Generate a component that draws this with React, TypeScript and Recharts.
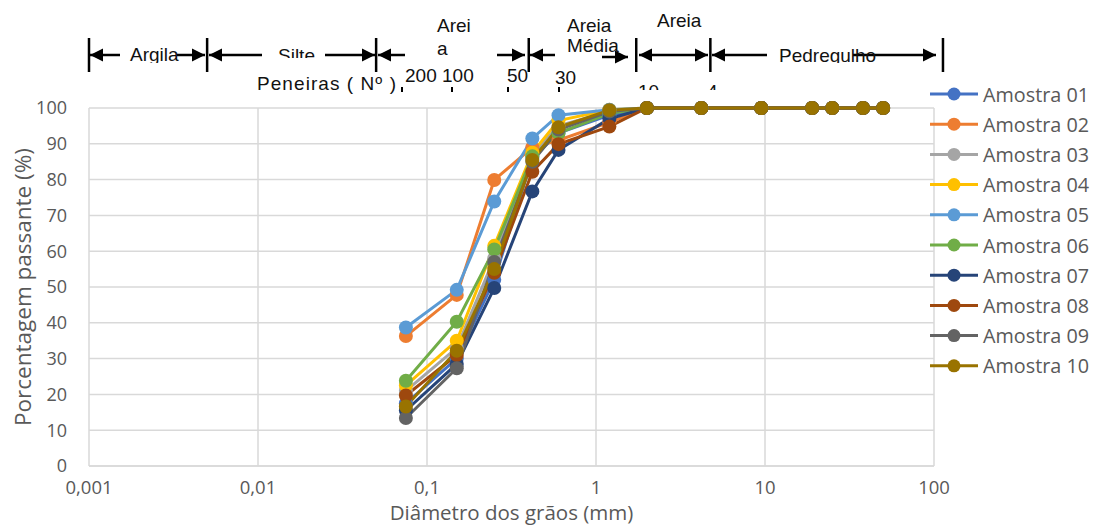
import React from 'react';
import { LineChart, Line, XAxis, YAxis, CartesianGrid } from 'recharts';

// Sieve opening diameters (mm)
const diameters = [0.075, 0.15, 0.25, 0.42, 0.6, 1.2, 2.0, 4.2, 9.5, 19, 25, 38, 50];

const seriesNames = [
  'Amostra 01', 'Amostra 02', 'Amostra 03', 'Amostra 04', 'Amostra 05',
  'Amostra 06', 'Amostra 07', 'Amostra 08', 'Amostra 09', 'Amostra 10',
];
const seriesColors = [
  '#4472C4', '#ED7D31', '#A5A5A5', '#FFC000', '#5B9BD5',
  '#70AD47', '#264478', '#9E480E', '#636363', '#997300',
];

const amostra01 = [17.5, 30.0, 52.0, 86.0, 93.0, 98.0, 100, 100, 100, 100, 100, 100, 100];
const amostra02 = [36.3, 47.8, 79.9, 89.0, 91.0, 96.0, 100, 100, 100, 100, 100, 100, 100];
const amostra03 = [21.0, 33.0, 58.0, 87.0, 95.0, 99.0, 100, 100, 100, 100, 100, 100, 100];
const amostra04 = [22.5, 35.0, 61.5, 87.5, 96.5, 99.5, 100, 100, 100, 100, 100, 100, 100];
const amostra05 = [38.7, 49.2, 73.9, 91.5, 98.0, 99.5, 100, 100, 100, 100, 100, 100, 100];
const amostra06 = [23.8, 40.3, 60.5, 86.5, 93.0, 98.5, 100, 100, 100, 100, 100, 100, 100];
const amostra07 = [15.5, 28.5, 49.7, 76.7, 88.3, 97.0, 100, 100, 100, 100, 100, 100, 100];
const amostra08 = [19.7, 31.0, 54.0, 82.2, 89.9, 94.8, 100, 100, 100, 100, 100, 100, 100];
const amostra09 = [13.4, 27.3, 57.0, 85.0, 94.0, 99.0, 100, 100, 100, 100, 100, 100, 100];
const amostra10 = [16.6, 32.2, 55.0, 85.5, 94.6, 99.4, 100, 100, 100, 100, 100, 100, 100];

const seriesValues = [
  amostra01, amostra02, amostra03, amostra04, amostra05,
  amostra06, amostra07, amostra08, amostra09, amostra10,
];

const xTicks = [0.001, 0.01, 0.1, 1, 10, 100];
const yTicks = [0, 10, 20, 30, 40, 50, 60, 70, 80, 90, 100];

// Soil classification boundaries (mm)
const classBounds = [0.001, 0.005, 0.05, 0.4, 1.73, 4.75, 113];

const data = diameters.map((d, i) => {
  const row: Record<string, number> = { d };
  seriesValues.forEach((vals, k) => {
    row['s' + k] = vals[i];
  });
  return row;
});

const W = 1093;
const H = 526;
const PL = 89;
const PR = 934;
const PT = 108;
const PB = 466;
const XMIN = 0.001;
const XMAX = 100;

const sx = (d: number) =>
  PL + ((Math.log10(d) - Math.log10(XMIN)) / (Math.log10(XMAX) - Math.log10(XMIN))) * (PR - PL);

const FONT = "'Open Sans', sans-serif";
const HFONT = "'Liberation Sans', Arial, sans-serif";
const GRAY = '#595959';

type Arrow = { from: number; to: number; head: 'left' | 'right'; y: number };
const arrows: Arrow[] = [
  { from: 90, to: 120, head: 'left', y: 55 },
  { from: 177, to: 205, head: 'right', y: 55 },
  { from: 209, to: 262, head: 'left', y: 55 },
  { from: 325, to: 375, head: 'right', y: 55 },
  { from: 378, to: 405, head: 'left', y: 55 },
  { from: 497, to: 525, head: 'right', y: 55 },
  { from: 530, to: 555, head: 'left', y: 55 },
  { from: 602, to: 628, head: 'right', y: 57 },
  { from: 639, to: 678, head: 'left', y: 55 },
  { from: 678, to: 708, head: 'right', y: 55 },
  { from: 712, to: 767, head: 'left', y: 55 },
  { from: 853, to: 936, head: 'right', y: 55 },
];

type HText = { t: string; x: number; y: number; clip?: number; len?: number };
const headerTexts: HText[] = [
  { t: 'Argila', x: 130, y: 61, clip: 63 },
  { t: 'Silte', x: 278, y: 62, clip: 58 },
  { t: 'Arei', x: 437, y: 32 },
  { t: 'a', x: 437, y: 55 },
  { t: 'Areia', x: 567, y: 32 },
  { t: 'Média', x: 567, y: 52 },
  { t: 'Areia', x: 657, y: 27 },
  { t: 'Pedregulho', x: 779, y: 62, clip: 63 },
  { t: 'Peneiras  ( Nº )', x: 257, y: 90, len: 139 },
  { t: '200', x: 405, y: 82 },
  { t: '100', x: 442, y: 82 },
  { t: '50', x: 507, y: 82 },
  { t: '30', x: 555, y: 84 },
  { t: '10', x: 638, y: 98, clip: 90 },
  { t: '4', x: 707, y: 98, clip: 90 },
];
const sieveMarks = [402, 452, 508, 559];

function ArrowShape({ a }: { a: Arrow }) {
  const hx = a.head === 'left' ? a.from : a.to;
  const dir = a.head === 'left' ? 1 : -1;
  const L = 13;
  const h = 6.5;
  return (
    <g>
      <line x1={a.from} x2={a.to} y1={a.y} y2={a.y} stroke="#000" strokeWidth={2.5} />
      <polygon
        points={`${hx},${a.y} ${hx + dir * L},${a.y - h} ${hx + dir * L},${a.y + h}`}
        fill="#000"
      />
    </g>
  );
}

function Overlay() {
  return (
    <svg
      width={W}
      height={H}
      style={{ position: 'absolute', left: 0, top: 0, pointerEvents: 'none' }}
    >
      <defs>
        {headerTexts.map((ht, i) =>
          ht.clip !== undefined ? (
            <clipPath id={'hc' + i} key={i}>
              <rect x={0} y={0} width={W} height={ht.clip} />
            </clipPath>
          ) : null
        )}
      </defs>
      {/* header: classification bands */}
      {classBounds.map((b, i) => (
        <line key={'b' + i} x1={sx(b)} x2={sx(b)} y1={38} y2={72} stroke="#000" strokeWidth={2.5} />
      ))}
      {arrows.map((a, i) => (
        <ArrowShape key={'a' + i} a={a} />
      ))}
      {headerTexts.map((ht, i) => (
        <text
          key={'t' + i}
          x={ht.x}
          y={ht.y}
          fontFamily={HFONT}
          fontSize={19}
          fill="#111"
          textLength={ht.len}
          clipPath={ht.clip !== undefined ? `url(#hc${i})` : undefined}
        >
          {ht.t}
        </text>
      ))}
      {sieveMarks.map((m, i) => (
        <line key={'m' + i} x1={m} x2={m} y1={87} y2={92} stroke="#000" strokeWidth={2} />
      ))}

      {/* axis titles */}
      <text
        x={22}
        y={(PT + PB) / 2}
        transform={`rotate(-90 22 ${(PT + PB) / 2})`}
        textAnchor="middle"
        dominantBaseline="central"
        fontFamily={FONT}
        fontSize={22.5}
        fill={GRAY}
      >
        Porcentagem passante (%)
      </text>
      <text
        x={(PL + PR) / 2}
        y={520}
        textAnchor="middle"
        fontFamily={FONT}
        fontSize={20.5}
        fill={GRAY}
      >
        Diâmetro dos grãos (mm)
      </text>

      {/* legend */}
      {seriesNames.map((n, i) => {
        const y = 94 + i * 30.2;
        return (
          <g key={'l' + i}>
            <line x1={930} x2={978} y1={y} y2={y} stroke={seriesColors[i]} strokeWidth={3} />
            <circle cx={954} cy={y} r={6.5} fill={seriesColors[i]} />
            <text
              x={983}
              y={y}
              dominantBaseline="central"
              fontFamily={FONT}
              fontSize={19.8}
              fill={GRAY}
            >
              {n}
            </text>
          </g>
        );
      })}
    </svg>
  );
}

export default function App() {
  return (
    <div style={{ position: 'absolute', left: 0, top: 0, width: W, height: H, background: '#fff' }}>
      <LineChart
        width={W}
        height={H}
        data={data}
        margin={{ top: PT, right: W - PR, bottom: 0, left: 0 }}
      >
        <CartesianGrid stroke="#d9d9d9" strokeWidth={1.5} />
        <XAxis
          dataKey="d"
          type="number"
          scale="log"
          domain={[XMIN, XMAX]}
          ticks={xTicks}
          interval={0}
          allowDataOverflow
          height={H - PB}
          axisLine={{ stroke: '#d9d9d9', strokeWidth: 1.5 }}
          tickLine={false}
          tickMargin={9}
          tick={{ fill: GRAY, fontSize: 18.5, fontFamily: FONT }}
          tickFormatter={(v: number) => String(v).replace('.', ',')}
        />
        <YAxis
          type="number"
          domain={[0, 100]}
          ticks={yTicks}
          interval={0}
          width={PL}
          axisLine={false}
          tickLine={false}
          tickMargin={16}
          tick={{ fill: GRAY, fontSize: 18, fontFamily: FONT }}
        />
        {seriesNames.map((n, k) => (
          <Line
            key={n}
            name={n}
            dataKey={'s' + k}
            type="linear"
            stroke={seriesColors[k]}
            strokeWidth={3}
            dot={{ r: 7, fill: seriesColors[k], stroke: seriesColors[k], strokeWidth: 0 }}
            activeDot={false}
            isAnimationActive={false}
          />
        ))}
      </LineChart>
      <Overlay />
    </div>
  );
}
